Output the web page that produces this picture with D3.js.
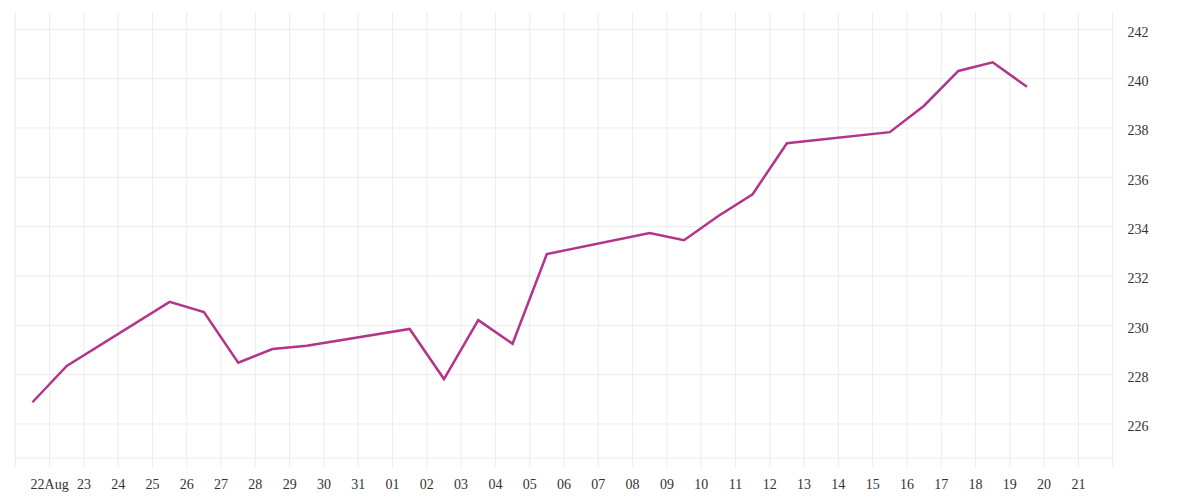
<!DOCTYPE html>
<html>
<head>
<meta charset="utf-8">
<script src="https://cdn.jsdelivr.net/npm/d3@7"></script>
<style>
  html, body { margin: 0; padding: 0; background: #fff; }
  svg { display: block; }
  text { font-family: "Liberation Serif", "DejaVu Serif", serif; font-size: 14px; fill: #333; }
</style>
</head>
<body>
<svg id="chart" width="1200" height="500"></svg>
<script>
// ---- Data ----
const dates = [
  "2025-08-21", "2025-08-22",
  "2025-08-25", "2025-08-26", "2025-08-27", "2025-08-28", "2025-08-29",
  "2025-09-01", "2025-09-02", "2025-09-03", "2025-09-04", "2025-09-05",
  "2025-09-08", "2025-09-09", "2025-09-10", "2025-09-11", "2025-09-12",
  "2025-09-15", "2025-09-16", "2025-09-17", "2025-09-18", "2025-09-19"
];
const values = [
  226.88, 228.35,
  230.95, 230.54, 228.48, 229.04, 229.17,
  229.85, 227.82, 230.21, 229.25, 232.89,
  233.74, 233.45, 234.43, 235.31, 237.38,
  237.83, 238.90, 240.31, 240.66, 239.67
];
const xTickDates = [
  "2025-08-22", "2025-08-23", "2025-08-24", "2025-08-25", "2025-08-26", "2025-08-27",
  "2025-08-28", "2025-08-29", "2025-08-30", "2025-08-31", "2025-09-01", "2025-09-02",
  "2025-09-03", "2025-09-04", "2025-09-05", "2025-09-06", "2025-09-07", "2025-09-08",
  "2025-09-09", "2025-09-10", "2025-09-11", "2025-09-12", "2025-09-13", "2025-09-14",
  "2025-09-15", "2025-09-16", "2025-09-17", "2025-09-18", "2025-09-19", "2025-09-20",
  "2025-09-21"
];
const xTickLabels = [
  "22Aug", "23", "24", "25", "26", "27", "28", "29", "30", "31", "01", "02", "03",
  "04", "05", "06", "07", "08", "09", "10", "11", "12", "13", "14", "15", "16",
  "17", "18", "19", "20", "21"
];
const yTicks = [226, 228, 230, 232, 234, 236, 238, 240, 242];
const xDomain = ["2025-08-21", "2025-09-22"];
const yDomain = [224.62, 242.70];

// ---- Setup ----
const parse = d3.utcParse("%Y-%m-%d");
const HALF_DAY = 12 * 3600 * 1000;
const plotLeft = 15.3, plotRight = 1112.7, plotTop = 12, plotBottom = 458;

const x = d3.scaleUtc().domain(xDomain.map(parse)).range([plotLeft, plotRight]);
const y = d3.scaleLinear().domain(yDomain).range([plotBottom, plotTop]);

const svg = d3.select("#chart");
const grid = "#ececec";

// vertical gridlines (day boundaries incl. edges)
const dayLines = d3.utcDay.range(parse(xDomain[0]), d3.utcDay.offset(parse(xDomain[1]), 1));
svg.append("g").selectAll("line").data(dayLines).join("line")
  .attr("x1", d => x(d)).attr("x2", d => x(d))
  .attr("y1", plotTop).attr("y2", plotBottom + 9)
  .attr("stroke", grid).attr("stroke-width", 1);

// horizontal gridlines
svg.append("g").selectAll("line").data(yTicks).join("line")
  .attr("x1", plotLeft).attr("x2", plotRight)
  .attr("y1", d => y(d)).attr("y2", d => y(d))
  .attr("stroke", grid).attr("stroke-width", 1);

// bottom axis line
svg.append("line")
  .attr("x1", plotLeft).attr("x2", plotRight)
  .attr("y1", plotBottom).attr("y2", plotBottom)
  .attr("stroke", grid).attr("stroke-width", 1);

// x tick labels
svg.append("g").selectAll("text").data(xTickDates).join("text")
  .attr("x", d => x(parse(d)))
  .attr("y", 489)
  .attr("text-anchor", "middle")
  .text((d, i) => xTickLabels[i]);

// y tick labels (right side)
svg.append("g").selectAll("text").data(yTicks).join("text")
  .attr("x", 1127.5)
  .attr("y", d => y(d) + 7.3)
  .attr("text-anchor", "start")
  .text(d => d);

// line
const pts = dates.map((d, i) => ({ t: new Date(parse(d).getTime() + HALF_DAY), v: values[i] }));
svg.append("path")
  .datum(pts)
  .attr("fill", "none")
  .attr("stroke", "#b2358a")
  .attr("stroke-width", 2.5)
  .attr("stroke-linejoin", "miter")
  .attr("d", d3.line().x(d => x(d.t)).y(d => y(d.v)));
</script>
</body>
</html>
